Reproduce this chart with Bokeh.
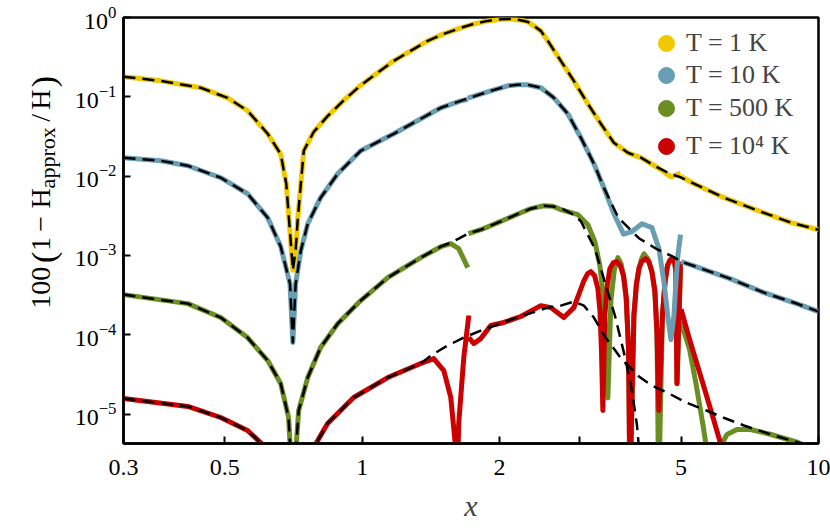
import math
from bokeh.plotting import figure
from bokeh.layouts import row
from bokeh.models import (FixedTicker, CustomJSTickFormatter, Legend,
                          LegendItem, Range1d, Label)
from bokeh.embed import file_html
from bokeh.resources import INLINE

nan = float("nan")

# ---------------- data ----------------
# T = 1 K : exact ratio
x_t1 = [0.300, 0.362, 0.443, 0.507, 0.561, 0.621, 0.663, 0.682, 0.691, 0.700,
        0.705, 0.715, 0.723, 0.734, 0.745, 0.783, 0.840, 0.911, 0.993, 1.173,
        1.392, 1.509, 1.645, 1.757, 1.884, 2.013, 2.118, 2.227, 2.307, 2.378,
        2.464, 2.552, 2.725, 2.910, 3.124, 3.335, 3.562, 3.823, 4.082, 4.448,
        4.751, 4.985, nan, 5.000, 5.335, 6.208, 7.372, 8.707, 10.0]
y_t1 = [0.179, 0.159, 0.130, 0.0971, 0.0667, 0.0342, 0.019, 0.0080, 0.0030, 0.00115,
        0.00065, 0.00115, 0.0030, 0.0080, 0.0209, 0.036, 0.057, 0.090, 0.140, 0.284,
        0.507, 0.621, 0.74, 0.831, 0.906, 0.952, 0.960, 0.925, 0.880, 0.784,
        0.678, 0.507, 0.284, 0.159, 0.0816, 0.0457, 0.0263, 0.0197, 0.0171, 0.01276,
        0.0098, 0.0109, nan, 0.0099, 0.00802, 0.00535, 0.00367, 0.00259, 0.00211]
# T = 1 K : approximation
x_t1_approx = [0.300, 0.362, 0.443, 0.507, 0.561, 0.621, 0.663, 0.682, 0.691, 0.700,
               0.705, 0.715, 0.723, 0.734, 0.745, 0.783, 0.840, 0.911, 0.993, 1.173,
               1.392, 1.509, 1.645, 1.757, 1.884, 2.013, 2.118, 2.227, 2.307, 2.378,
               2.464, 2.552, 2.725, 2.910, 3.124, 3.335, 3.562, 3.823, 4.082, 4.448,
               4.751, 5.000, 5.335, 6.208, 7.372, 8.707, 10.0]
y_t1_approx = [0.179, 0.159, 0.130, 0.0971, 0.0667, 0.0342, 0.019, 0.0080, 0.0030, 0.00115,
               0.00065, 0.00115, 0.0030, 0.0080, 0.0209, 0.036, 0.057, 0.090, 0.140, 0.284,
               0.507, 0.621, 0.74, 0.831, 0.906, 0.952, 0.960, 0.925, 0.880, 0.784,
               0.678, 0.507, 0.284, 0.159, 0.0816, 0.0457, 0.0263, 0.0197, 0.0171, 0.0128,
               0.0106, 0.0096, 0.00802, 0.00535, 0.00367, 0.00259, 0.00211]

# T = 10 K : exact ratio
x_t10 = [0.300, 0.362, 0.415, 0.490, 0.561, 0.621, 0.663, 0.695, 0.705, 0.715,
         0.734, 0.760, 0.811, 0.884, 0.993, 1.173, 1.487, 1.645, 1.704, nan,
         1.704, 1.914, 2.085, 2.193, 2.307, 2.464, 2.631, 2.823, 3.015, 3.220,
         3.386, 3.562, 3.739, 3.901, 4.104, 4.315, 4.470, 4.585, 4.693, 4.751,
         4.822, 4.871, 4.920, 4.985, nan, 5.000, 5.389, 6.397, 7.598, 9.020, 10.0]
y_t10 = [0.01706, 0.01563, 0.01352, 0.00955, 0.0060, 0.00299, 0.0013, 0.00044, 0.00008, 0.00044,
         0.00115, 0.00251, 0.00535, 0.0107, 0.0209, 0.0342, 0.0727, 0.089, 0.0925, nan,
         0.0965, 0.119, 0.1376, 0.1416, 0.1416, 0.130, 0.0971, 0.0611, 0.0305, 0.01433,
         0.00714, 0.00336, 0.00186, 0.0020, 0.00251, 0.00224, 0.00122, 0.000461, 0.000143, 0.000087,
         0.000175, 0.000461, 0.00101, 0.00183, nan, 0.000836, 0.000723, 0.000510, 0.000340, 0.000244,
         0.000196]
# T = 10 K : approximation
x_t10_approx = [0.300, 0.362, 0.415, 0.490, 0.561, 0.621, 0.663, 0.695, 0.705, 0.715,
                0.734, 0.760, 0.811, 0.884, 0.993, 1.173, 1.487, 1.645, 1.914, 2.085,
                2.193, 2.307, 2.464, 2.631, 2.823, 3.015, 3.220, 3.386, 3.643, 4.041,
                4.403, 4.797, 5.000, 5.389, 6.397, 7.598, 9.020, 10.0]
y_t10_approx = [0.01706, 0.01563, 0.01352, 0.00955, 0.0060, 0.00299, 0.0013, 0.00044, 0.00008, 0.00044,
                0.00115, 0.00251, 0.00535, 0.0107, 0.0209, 0.0342, 0.0727, 0.089, 0.119, 0.1376,
                0.1416, 0.1416, 0.130, 0.0971, 0.0611, 0.0305, 0.01433, 0.00714, 0.00299, 0.00165,
                0.00122, 0.000966, 0.000836, 0.000723, 0.000510, 0.000340, 0.000244, 0.000196]

# T = 500 K : exact ratio
x_t500 = [0.300, 0.415, 0.490, 0.561, 0.621, 0.663, 0.690, 0.705, 0.726, 0.760,
          0.811, 0.884, 0.993, 1.138, 1.344, 1.487, 1.564, 1.628, 1.704, nan,
          1.710, 1.820, 1.983, 2.227, 2.342, 2.502, 2.618, 2.725, 2.970, 3.124,
          3.236, 3.319, 3.369, 3.420, 3.455, 3.509, 3.570, 3.634, 3.690, 3.739,
          3.790, 3.836, 3.862, 3.940, 3.990, 4.041, 4.090, 4.145, 4.230, 4.315,
          4.380, 4.426, 4.465, 4.550, 4.610, 4.669, 4.730, 4.791, 4.840, 4.871,
          4.900, 4.985, nan, 5.000, 5.218, 5.389, 5.581, 5.681, 5.850, 6.083,
          6.302, 6.627, 7.096, 7.870, 9.020, 10.0]
y_t500 = [3.21e-4, 2.47e-4, 1.65e-4, 9.22e-5, 4.73e-5, 2.43e-5, 9.06e-6, 1e-6, 1.11e-5, 2.89e-5,
          6.9e-5, 1.38e-4, 2.7e-4, 5.25e-4, 9.38e-4, 1.29e-3, 1.41e-3, 1.22e-3, 7.02e-4, nan,
          1.88e-3, 2.11e-3, 2.59e-3, 3.46e-3, 3.89e-3, 4.24e-3, 4.18e-3, 3.78e-3, 3.27e-3, 2.44e-3,
          1.49e-3, 7.44e-4, 3.40e-4, 1.07e-4, 1.6e-5, 2.7e-4, 6.6e-4, 9.38e-4, 8.0e-4, 5.6e-4,
          2.8e-4, 6.5e-5, 1e-6, 1.75e-4, 4.3e-4, 6.8e-4, 8.9e-4, 1.05e-3, 9.0e-4, 6.3e-4,
          3.4e-4, 1.07e-4, 1e-6, 1.75e-4, 4.6e-4, 7.5e-4, 8.7e-4, 9.1e-4, 8.0e-4, 6.2e-4,
          2.4e-5, 7.0e-4, nan, 1.43e-4, 6.51e-5, 2.43e-5, 7.4e-6, 3.8e-6, 1e-6, 3.8e-6,
          5.53e-6, 6.4e-6, 6.4e-6, 5.53e-6, 4.39e-6, 3.4e-6]
# T = 500 K : approximation
x_t500_approx = [0.300, 0.415, 0.490, 0.561, 0.621, 0.663, 0.690, 0.705, 0.726, 0.760,
                 0.811, 0.884, 0.993, 1.138, 1.344, 1.487, 1.564, 1.628, 1.710, 1.820,
                 1.983, 2.227, 2.342, 2.502, 2.618, 2.725, 2.910, 3.015, 3.236, 3.403,
                 3.580, 3.765, 3.901, 4.000, 4.041, 4.150]
y_t500_approx = [3.21e-4, 2.47e-4, 1.65e-4, 9.22e-5, 4.73e-5, 2.43e-5, 9.06e-6, 1e-6, 1.11e-5, 2.89e-5,
                 6.9e-5, 1.38e-4, 2.7e-4, 5.25e-4, 9.38e-4, 1.29e-3, 1.45e-3, 1.63e-3, 1.90e-3, 2.11e-3,
                 2.59e-3, 3.46e-3, 3.89e-3, 4.24e-3, 4.15e-3, 3.95e-3, 3.25e-3, 2.70e-3, 1.22e-3, 4.61e-4,
                 1.75e-4, 5.31e-5, 1.98e-5, 7.4e-6, 3.8e-6, 1.5e-6]

# T = 10^4 K : exact ratio
x_t1e4 = [0.300, 0.415, 0.490, 0.561, 0.621, 0.660, 0.705, 0.750, 0.779, 0.840,
          0.958, 1.138, 1.344, 1.435, 1.510, 1.564, 1.604, 1.612, 1.628, 1.670,
          1.713, nan, 1.713, 1.757, 1.820, 1.914, 2.044, 2.227, 2.464, 2.592,
          2.767, 2.910, 3.062, 3.120, 3.171, 3.230, 3.285, 3.320, 3.345, 3.369,
          3.403, 3.445, 3.490, 3.550, 3.615, 3.680, 3.739, 3.790, 3.836, 3.862,
          3.940, 3.990, 4.041, 4.100, 4.178, 4.250, 4.315, 4.380, 4.426, 4.470,
          4.550, 4.610, 4.669, 4.730, 4.791, 4.840, 4.871, 4.895, 4.985, nan,
          5.000, 5.218, 5.581, 5.873, 6.136, 6.400]
y_t1e4 = [1.57e-5, 1.25e-5, 9.06e-6, 6.21e-6, 3.6e-6, 1.5e-6, 1e-7, 1.5e-6, 3.6e-6, 7.62e-6,
          1.62e-5, 2.89e-5, 4.34e-5, 5.01e-5, 3.54e-5, 1.62e-5, 3.6e-6, 1e-6, 7.62e-6, 5.16e-5,
          1.75e-4, nan, 9.22e-5, 7.75e-5, 8.95e-5, 1.31e-4, 1.43e-4, 1.70e-4, 2.33e-4, 2.20e-4,
          1.65e-4, 2.20e-4, 4.82e-4, 5.9e-4, 6.25e-4, 5.6e-4, 3.82e-4, 2.0e-4, 6.51e-5, 1.11e-5,
          1.75e-4, 4.2e-4, 6.82e-4, 8.1e-4, 8.36e-4, 7.4e-4, 5.57e-4, 3.0e-4, 6.51e-5, 1e-6,
          1.75e-4, 4.3e-4, 6.82e-4, 8.4e-4, 9.12e-4, 8.3e-4, 6.25e-4, 3.6e-4, 1.07e-4, 1.11e-5,
          1.75e-4, 4.6e-4, 7.53e-4, 8.8e-4, 9.12e-4, 8.2e-4, 6.25e-4, 2.43e-5, 8.36e-4, nan,
          2.10e-4, 8.7e-5, 2.43e-5, 9.06e-6, 3.8e-6, 1.5e-6]
# T = 10^4 K : approximation
x_t1e4_approx = [0.300, 0.415, 0.490, 0.561, 0.621, 0.660, 0.705, 0.750, 0.779, 0.840,
                 0.958, 1.138, 1.344, 1.414, 1.540, 1.670, 1.820, 2.149, 2.552, 2.725,
                 2.910, 3.062, 3.220, 3.403, 3.709, 4.041, 4.315, 4.702, 5.125, 5.681,
                 6.177, 6.866, 7.870, 9.020, 10.0]
y_t1e4_approx = [1.57e-5, 1.25e-5, 9.06e-6, 6.21e-6, 3.6e-6, 1.5e-6, 1e-7, 1.5e-6, 3.6e-6, 7.62e-6,
                 1.62e-5, 2.89e-5, 4.34e-5, 5.47e-5, 7.31e-5, 9.22e-5, 1.13e-4, 1.60e-4, 2.20e-4, 2.33e-4,
                 2.62e-4, 2.33e-4, 1.65e-4, 9.49e-5, 4.87e-5, 2.98e-5, 2.29e-5, 1.82e-5, 1.40e-5, 1.11e-5,
                 9.06e-6, 7.18e-6, 5.53e-6, 4.39e-6, 3.58e-6]

legend_labels = ["T = 1 K", "T = 10 K", "T = 500 K", "T = 10\u2074 K"]
colors = ["#F0C800", "#689DB2", "#6B8E23", "#CC0000"]
x_ticks = [0.3, 0.5, 1, 2, 3, 5, 10]
y_ticks = [1e-5, 1e-4, 1e-3, 1e-2, 1e-1, 1.0]
x_limits = (0.3, 10.0)
y_limits = (4.26e-6, 1.0)

SERIF = "Liberation Serif"
LABEL_W = 70          # width of the strip holding the y-axis title
H = 531

# ---------------- main figure ----------------
p = figure(width=830 - LABEL_W, height=H, x_axis_type="log", y_axis_type="log",
           x_range=Range1d(*x_limits), y_range=Range1d(*y_limits),
           output_backend="svg", toolbar_location=None,
           min_border_left=123 - LABEL_W, min_border_right=12, min_border_top=17,
           min_border_bottom=88)
p.background_fill_color = "white"
p.border_fill_color = "white"
p.outline_line_color = "black"
p.outline_line_width = 2.5
p.xgrid.visible = False
p.ygrid.visible = False

for ax in (p.xaxis[0], p.yaxis[0]):
    ax.axis_line_width = 2.5
    ax.major_tick_in = 7
    ax.major_tick_out = 0
    ax.major_tick_line_width = 2
    ax.minor_tick_line_color = None
    ax.major_label_text_font = SERIF
    ax.major_label_text_font_size = "24px"
    ax.major_label_text_color = "black"

p.xaxis.ticker = FixedTicker(ticks=x_ticks)
p.xaxis.formatter = CustomJSTickFormatter(
    code="if (tick == 3) { return ''; } return tick.toString();")
p.xaxis.major_label_standoff = 16
p.xaxis.axis_label = "x"
p.xaxis.axis_label_text_font = SERIF
p.xaxis.axis_label_text_font_style = "italic"
p.xaxis.axis_label_text_font_size = "30px"
p.xaxis.axis_label_standoff = 11

p.yaxis.ticker = FixedTicker(ticks=y_ticks)
p.yaxis.major_label_standoff = 7

series = [(x_t1, y_t1), (x_t10, y_t10), (x_t500, y_t500), (x_t1e4, y_t1e4)]
approx = [(x_t1_approx, y_t1_approx), (x_t10_approx, y_t10_approx),
          (x_t500_approx, y_t500_approx), (x_t1e4_approx, y_t1e4_approx)]
draw_order = [2, 3, 1, 0]
for i in draw_order:
    xs, ys = series[i]
    p.line(xs, ys, line_color=colors[i], line_width=5, line_join="round")
for i in draw_order:
    xs, ys = approx[i]
    p.line(xs, ys, line_color="black", line_width=2.5, line_dash="12 7",
           line_join="round")

# legend: one single-item legend per entry so the markers can be large
legend_centers = [43, 75, 108, 146]    # pixel rows of the entries
for lab, col, cy in zip(legend_labels, colors, legend_centers):
    r = p.scatter(x=[1e-3], y=[1e-9], marker="circle", size=16, fill_color=col,
                  line_color=col)
    lg = Legend(items=[LegendItem(label=lab, renderers=[r])],
                location=(523, 443 - (cy + 20)), glyph_width=40, glyph_height=40,
                spacing=0, padding=0, margin=0, label_standoff=0,
                label_text_font=SERIF, label_text_font_size="26px",
                border_line_color=None, background_fill_alpha=0)
    p.add_layout(lg)

# ---------------- y-axis title strip ----------------
t = figure(width=LABEL_W, height=H, x_range=Range1d(0, LABEL_W), y_range=Range1d(0, H),
           output_backend="svg", toolbar_location=None, x_axis_location=None,
           y_axis_location=None, min_border=0)
t.outline_line_color = None
t.grid.visible = False
t.background_fill_color = "white"
t.border_fill_color = "white"

# (text, top-down pixel row where the piece starts, font px, baseline column)
ylabel_parts = [("100", 363, 28, 40), ("(", 306, 34, 43), ("1", 291, 28, 40),
                ("\u2212", 267, 28, 40), ("H", 238, 28, 40), ("approx", 213, 22, 47),
                ("/", 130, 28, 40), ("H", 115, 28, 40), (")", 87, 34, 43)]
for txt, py, fs, px in ylabel_parts:
    t.add_layout(Label(x=px, y=H - py, text=txt, angle=math.pi / 2,
                       text_align="left", text_baseline="alphabetic",
                       text_font=SERIF, text_font_size=f"{fs}px",
                       text_color="black"))

open("out.html", "w").write(file_html(row(t, p), INLINE))
